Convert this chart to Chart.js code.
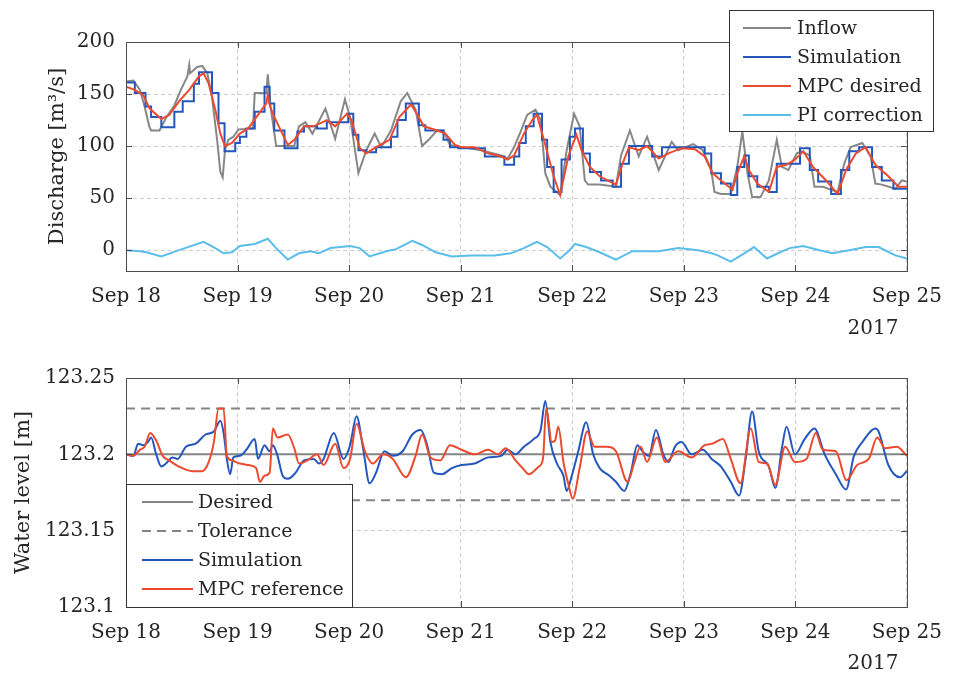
<!DOCTYPE html>
<html>
<head>
<meta charset="utf-8">
<script src="https://cdn.jsdelivr.net/npm/chart.js@4.4.0/dist/chart.umd.min.js"></script>
<style>
  html, body { margin: 0; padding: 0; background: #fff; }
  #wrap { position: relative; width: 956px; height: 675px; }
  canvas { position: absolute; left: 0; }
  #top { top: 0; }
  #bottom { top: 340px; }
</style>
</head>
<body>
<div id="wrap">
  <canvas id="top" width="956" height="340"></canvas>
  <canvas id="bottom" width="956" height="335"></canvas>
</div>
<script>
// x is hours since Sep 18 2017 00:00
var dayTicks = [0, 24, 48, 72, 96, 120, 144, 168];
var dayLabels = ['Sep 18', 'Sep 19', 'Sep 20', 'Sep 21', 'Sep 22', 'Sep 23', 'Sep 24', 'Sep 25'];
var yearLabel = '2017';

var flowTicks = [0, 50, 100, 150, 200];
var levelTicks = [123.1, 123.15, 123.2, 123.25];
var levelTickLabels = ['123.1', '123.15', '123.2', '123.25'];

// --- discharge panel ---
var inflowT = [0, 1.6, 3, 4, 5, 5.4, 7.2, 8.6, 10.4, 11.8, 13.2, 13.6, 13.8, 15.3, 16.4, 17.5, 18.5, 19.6, 20.3, 20.8,
  21.3, 22, 23.1, 24.2, 27.3, 27.7, 30.2, 30.5, 31.1, 32.3, 36.2, 37.2, 38.6, 40.1, 42.9, 45, 47.1, 48.2, 50, 51.7,
  53.5, 54.9, 57, 59.1, 60.5, 62.3, 63.7, 65.1, 66.9, 68.3, 69.7, 72.2, 76.4, 80.7, 82.1, 83.5, 84.9, 86.3, 88.1, 89.2,
  90.2, 91.3, 93.4, 94.8, 96.4, 97.6, 98.7, 99.4, 101.9, 105.4, 106.5, 108.4, 110.3, 112.1, 114.6, 117.4, 118.8, 122, 124.1, 125.9,
  126.6, 128, 130.1, 131.5, 132.6, 133.7, 134.7, 136.5, 138.3, 140, 141.1, 142.5, 144.3, 145.3, 147.1, 148.1, 149.9, 153.1, 154.5, 155.9,
  158.4, 160.2, 161.2, 162.6, 165.5, 166.9, 168];
var inflowQ = [162, 163, 154, 138, 119, 115, 115, 127, 139, 154, 167, 178, 170, 176, 177, 170, 147, 106, 75, 70,
  96, 106, 109, 116, 117, 151, 151, 169, 138, 100, 100, 119, 123, 112, 136, 107, 145, 128, 74, 96,
  112, 99, 115, 143, 151, 135, 100, 106, 115, 115, 101, 99, 96, 91, 88, 99, 114, 130, 135, 125,
  74, 61, 53, 96, 131, 119, 67, 63, 63, 61, 91, 115, 90, 109, 77, 104, 96, 102, 96, 77,
  56, 54, 54, 80, 114, 74, 51, 51, 67, 106, 80, 77, 93, 95, 91, 61, 61, 56, 83, 99,
  103, 90, 64, 63, 59, 67, 66];

// simulation is a staircase: each value holds from its time to the next one
var simT = [0, 1.9, 4.2, 5.4, 7.6, 10.4, 12.2, 14.6, 15.7, 18.5, 19.9, 21.2, 23.5, 24.5, 25.9, 27.7, 29.8, 30.9, 31.9, 34.1,
  36.9, 38.3, 41.1, 43.2, 47.8, 48.9, 50, 51.7, 53.8, 57, 58.4, 60.2, 63, 64.4, 68.3, 69.7, 71.5, 77.2, 81.4, 83.5,
  84.6, 86, 87.7, 89.5, 90.6, 92, 93.7, 95.5, 96.6, 98.3, 99.8, 102.2, 104.7, 106.5, 108.2, 113.2, 115.3, 124.5, 125.9, 128,
  130.1, 131.5, 133, 134, 135.8, 138.3, 140, 145, 147.1, 148.9, 151.7, 153.8, 155.6, 157.7, 160.5, 162.6, 165.1, 168];
var simQ = [161, 151, 138, 128, 118, 133, 143, 160, 171, 151, 122, 95, 103, 109, 117, 133, 157, 141, 115, 98,
  114, 119, 117, 123, 131, 111, 96, 94, 99, 109, 125, 141, 120, 115, 106, 99, 98, 90, 82, 90,
  103, 119, 131, 106, 80, 56, 87, 109, 117, 93, 75, 67, 61, 83, 100, 90, 99, 93, 74, 64,
  53, 80, 91, 71, 61, 56, 83, 98, 77, 66, 54, 77, 95, 99, 80, 67, 59, 59];

var mpcT = [0, 1.9, 3.7, 5.1, 7.6, 9.3, 11.4, 13.6, 15.7, 16.7, 17.8, 19.2, 20.3, 21.3, 22.8, 24.5, 26.3, 28.4, 30.2, 30.5,
  31, 31.9, 34.8, 36.2, 38.3, 40.4, 43.2, 45, 47.5, 48.5, 50.3, 51.7, 53.8, 56.7, 58.8, 61.3, 62.3, 64.1, 66.9, 68.7,
  70.8, 72.2, 75, 77.9, 80.7, 82.1, 83.5, 85.6, 87.4, 88.4, 89.9, 92, 93.4, 95.2, 96.9, 98, 99.8, 101.9, 105.4, 106.8,
  108.2, 110.3, 112.1, 114.6, 116.7, 119.5, 122.4, 124.5, 126.2, 128, 130.5, 131.5, 133, 134, 135.8, 138.3, 140, 142.1, 143.9, 145.7,
  147.8, 150.6, 153.1, 154.9, 157, 159.1, 161.2, 164, 166.2, 168];
var mpcQ = [157, 154, 149, 136, 126, 130, 143, 154, 167, 170, 160, 135, 112, 100, 103, 112, 117, 130, 141, 149,
  138, 128, 101, 106, 119, 119, 125, 119, 131, 125, 98, 93, 99, 106, 128, 140, 133, 119, 115, 112,
  101, 99, 99, 93, 90, 87, 91, 112, 125, 130, 106, 71, 53, 91, 111, 96, 80, 71, 63, 83,
  99, 96, 100, 88, 93, 98, 97, 90, 74, 67, 58, 74, 90, 77, 64, 56, 80, 82, 87, 95,
  80, 67, 54, 77, 93, 99, 82, 71, 61, 61];

var piT = [0, 3, 4.4, 7.6, 11.4, 16.7, 19.2, 21, 22.8, 24.5, 27.7, 30.5, 32.3, 34.8, 37.2, 39.7, 41.5, 44, 48.2, 50.3,
  52.4, 56, 58.1, 61.6, 63.7, 66.6, 70.1, 74.3, 79.3, 82.8, 85.6, 88.4, 90.6, 93.4, 95.2, 96.6, 99, 101.9, 105.4, 108.9,
  114.6, 118.8, 123.1, 126, 127.3, 130.1, 133, 135.1, 137.9, 140.7, 142.8, 145.7, 149.2, 152, 155.6, 159.1, 161.9, 165.5, 168];
var piQ = [0, -1, -2, -6, 0, 8, 2, -3, -2, 4, 6, 11, 2, -9, -3, -1, -3, 2, 4, 2,
  -6, -1, 1, 9, 5, -2, -6, -5, -5, -3, 2, 8, 3, -8, -1, 6, 3, -2, -9, -1,
  -1, 2, 0, -3, -5, -11, -3, 3, -8, -2, 2, 4, 0, -3, 0, 3, 3, -5, -8];

// --- water level panel ---
var levelDesired = 123.2;
var levelTolerance = [123.23, 123.17];

var wlSimT = [0, 1.6, 2.6, 3.7, 4.7, 5.4, 6.5, 7.6, 8.6, 10, 11.1, 12.9, 15, 17.1, 18.9, 20.3, 21, 21.7, 22.4, 23.1,
  24.5, 25.9, 27.7, 28.4, 29.8, 30.9, 31.6, 32.6, 33.7, 34.8, 36.5, 38.3, 40.4, 41.5, 42.5, 44.7, 46.8, 48.2, 49.6, 51,
  52.4, 53.8, 55.6, 57.4, 59.5, 61.6, 63.4, 64.8, 66.2, 68, 70.1, 72.2, 75, 77.9, 80.7, 82.1, 83.8, 85.6, 87.7, 89.2,
  90.2, 91.3, 92.7, 94.1, 94.8, 95.9, 97.3, 99, 100.5, 101.9, 104, 105.4, 107.2, 108.6, 110, 111.1, 112.5, 114, 115.6, 116.7,
  118.1, 119.5, 121.7, 124.1, 126, 128, 130.1, 131.9, 133.3, 134.7, 136.1, 138.3, 139.7, 141.1, 142.1, 143.9, 146, 148.1, 150.3, 152.7,
  154.9, 156.6, 158.4, 161.2, 161.9, 164, 166.5, 168];
var wlSimH = [123.200, 123.199, 123.207, 123.206, 123.208, 123.211, 123.200, 123.192, 123.194, 123.198, 123.197, 123.205, 123.207, 123.213, 123.215, 123.222, 123.214, 123.197, 123.187, 123.198,
  123.199, 123.203, 123.210, 123.197, 123.206, 123.202, 123.206, 123.199, 123.186, 123.184, 123.188, 123.196, 123.197, 123.194, 123.197, 123.214, 123.197, 123.206, 123.225, 123.204,
  123.181, 123.188, 123.202, 123.199, 123.202, 123.213, 123.216, 123.206, 123.188, 123.187, 123.191, 123.193, 123.194, 123.198, 123.199, 123.203, 123.200, 123.205, 123.210, 123.216,
  123.235, 123.208, 123.194, 123.186, 123.176, 123.186, 123.202, 123.221, 123.200, 123.191, 123.186, 123.182, 123.176, 123.188, 123.206, 123.202, 123.199, 123.216, 123.200, 123.195,
  123.205, 123.208, 123.200, 123.203, 123.197, 123.192, 123.182, 123.173, 123.197, 123.228, 123.202, 123.192, 123.178, 123.204, 123.218, 123.200, 123.210, 123.217, 123.200, 123.187,
  123.177, 123.199, 123.208, 123.217, 123.215, 123.193, 123.185, 123.189];

var wlRefT = [0, 1.6, 3, 4, 5.2, 6.5, 7.9, 9.3, 11.4, 14.3, 16.4, 17.8, 18.9, 19.9, 21, 21.7, 22.8, 24.5, 26.3, 28,
  28.8, 29.8, 30.9, 31.6, 32.6, 34.8, 36.2, 37.2, 39, 41.1, 42.5, 45, 46.8, 48.2, 49.6, 51.4, 53.1, 55.3, 57.4, 60.2,
  62.3, 63.7, 65.5, 67.6, 69.7, 72.2, 75, 77.9, 80, 81.7, 83.8, 85.3, 86.7, 88.8, 89.7, 90.4, 91.6, 92.3, 93, 94.1,
  95.2, 96.1, 97.6, 99.2, 100.8, 103.3, 105.4, 107.9, 109.3, 110.7, 112.1, 114.2, 116, 118.8, 121.7, 124.5, 126.2, 128.4, 130.1, 132.2,
  134.4, 136.1, 137.9, 139.7, 141.8, 143.9, 146.4, 148.4, 149.9, 152.7, 155, 157.3, 159.8, 161.6, 163.3, 165.8, 168];
var wlRefH = [123.200, 123.199, 123.203, 123.205, 123.214, 123.209, 123.199, 123.196, 123.192, 123.189, 123.189, 123.195, 123.208, 123.230, 123.230, 123.199, 123.196, 123.194, 123.193, 123.191,
  123.182, 123.186, 123.188, 123.217, 123.211, 123.213, 123.204, 123.194, 123.196, 123.200, 123.193, 123.207, 123.191, 123.197, 123.220, 123.202, 123.194, 123.200, 123.197, 123.185,
  123.199, 123.213, 123.198, 123.196, 123.206, 123.203, 123.200, 123.203, 123.200, 123.204, 123.196, 123.191, 123.187, 123.192, 123.197, 123.230, 123.208, 123.209, 123.218, 123.195,
  123.180, 123.171, 123.191, 123.215, 123.205, 123.205, 123.202, 123.182, 123.194, 123.205, 123.195, 123.211, 123.195, 123.202, 123.198, 123.206, 123.207, 123.210, 123.197, 123.181,
  123.217, 123.195, 123.194, 123.180, 123.205, 123.195, 123.197, 123.214, 123.203, 123.202, 123.183, 123.193, 123.197, 123.211, 123.204, 123.205, 123.199];

function pts(t, v) {
  return t.map(function (x, i) { return { x: x, y: v[i] }; });
}

var FONT = '"DejaVu Serif", "Liberation Serif", serif';
var TEXT = '#262626';

// matlab-like box, inner ticks, legend and year label
var matlabBox = {
  id: 'matlabBox',
  afterDraw: function (chart, args, opts) {
    var ctx = chart.ctx, a = chart.chartArea;
    var xs = chart.scales.x, ys = chart.scales.y;
    ctx.save();
    ctx.strokeStyle = '#4d4d4d';
    ctx.lineWidth = 1;
    ctx.beginPath();
    dayTicks.forEach(function (t) {
      var px = Math.round(xs.getPixelForValue(t)) + 0.5;
      ctx.moveTo(px, a.bottom); ctx.lineTo(px, a.bottom - 6);
      ctx.moveTo(px, a.top); ctx.lineTo(px, a.top + 6);
    });
    opts.yTicks.forEach(function (v) {
      var py = Math.round(ys.getPixelForValue(v)) + 0.5;
      ctx.moveTo(a.left, py); ctx.lineTo(a.left + 6, py);
      ctx.moveTo(a.right, py); ctx.lineTo(a.right - 6, py);
    });
    ctx.stroke();
    ctx.strokeRect(Math.round(a.left) + 0.5, Math.round(a.top) + 0.5,
      Math.round(a.right - a.left), Math.round(a.bottom - a.top));

    // year under the last tick
    ctx.fillStyle = TEXT;
    ctx.font = '20px ' + FONT;
    ctx.textAlign = 'center';
    ctx.textBaseline = 'middle';
    ctx.fillText(yearLabel, opts.yearX, opts.yearY);

    // legend
    var L = opts.legend;
    ctx.fillStyle = '#fff';
    ctx.fillRect(L.x, L.y, L.w, L.h);
    ctx.strokeStyle = '#333';
    ctx.strokeRect(L.x + 0.5, L.y + 0.5, L.w, L.h);
    ctx.font = '19px ' + FONT;
    ctx.textAlign = 'left';
    L.items.forEach(function (di, k) {
      var ds = chart.data.datasets[di];
      var yy = L.row0 + k * L.step;
      ctx.save();
      ctx.strokeStyle = ds.borderColor;
      ctx.lineWidth = ds.borderWidth;
      ctx.setLineDash(ds.borderDash || []);
      ctx.beginPath();
      ctx.moveTo(L.sx0, yy); ctx.lineTo(L.sx1, yy);
      ctx.stroke();
      ctx.restore();
      ctx.fillStyle = TEXT;
      ctx.fillText(ds.label, L.tx, yy + 1);
    });
    ctx.restore();
  }
};

function xScale(h) {
  return {
    type: 'linear', min: 0, max: 168,
    afterBuildTicks: function (s) { s.ticks = dayTicks.map(function (v) { return { value: v }; }); },
    afterFit: function (s) { s.height = h; },
    ticks: {
      autoSkip: false, maxRotation: 0, padding: 14, color: TEXT,
      font: { family: FONT, size: 20 },
      callback: function (v, i) { return dayLabels[i]; }
    },
    grid: { color: '#cdcdcd', lineWidth: 1, drawTicks: false },
    border: { display: false, dash: [4, 3] }
  };
}

function yScale(min, max, ticks, labels, title, titlePad) {
  return {
    type: 'linear', min: min, max: max,
    afterBuildTicks: function (s) { s.ticks = ticks.map(function (v) { return { value: v }; }); },
    afterFit: function (s) { s.width = 126; },
    ticks: {
      padding: 11, color: TEXT,
      font: { family: FONT, size: 20 },
      callback: function (v, i) { return labels[i]; }
    },
    title: {
      display: true, text: title, color: TEXT,
      font: { family: FONT, size: 21 },
      padding: { top: titlePad, bottom: 0 }
    },
    grid: { color: '#cdcdcd', lineWidth: 1, drawTicks: false },
    border: { display: false, dash: [4, 3] }
  };
}

function line(label, data, color, order, extra) {
  var ds = {
    label: label, data: data, borderColor: color, backgroundColor: color,
    borderWidth: 2, pointRadius: 0, tension: 0, fill: false, order: order
  };
  for (var k in extra) ds[k] = extra[k];
  return ds;
}

new Chart(document.getElementById('top'), {
  type: 'line',
  data: {
    datasets: [
      line('Inflow', pts(inflowT, inflowQ), '#878787', 3),
      line('Simulation', pts(simT, simQ), '#2357bd', 2, { stepped: 'before' }),
      line('MPC desired', pts(mpcT, mpcQ), '#ec4a2e', 1),
      line('PI correction', pts(piT, piQ), '#5bbde9', 4)
    ]
  },
  options: {
    responsive: false, animation: false, devicePixelRatio: 1,
    layout: { padding: { left: 0, right: 37, top: 42, bottom: 0 } },
    plugins: {
      legend: { display: false }, tooltip: { enabled: false },
      matlabBox: {
        yTicks: flowTicks, yearX: 873, yearY: 329,
        legend: { x: 729, y: 10, w: 204, h: 121, row0: 28, step: 29, sx0: 743, sx1: 791, tx: 797, items: [0, 1, 2, 3] }
      }
    },
    scales: {
      x: xScale(69),
      y: yScale(-20, 200, flowTicks, flowTicks.map(String), 'Discharge [m³/s]', 45)
    }
  },
  plugins: [matlabBox]
});

new Chart(document.getElementById('bottom'), {
  type: 'line',
  data: {
    datasets: [
      line('Desired', pts([0, 168], [levelDesired, levelDesired]), '#858585', 3),
      line('Tolerance', pts([0, 168], [levelTolerance[0], levelTolerance[0]]), '#858585', 4, { borderDash: [9, 6] }),
      line('Simulation', pts(wlSimT, wlSimH), '#2357bd', 2, { cubicInterpolationMode: 'monotone' }),
      line('MPC reference', pts(wlRefT, wlRefH), '#ec4a2e', 1, { cubicInterpolationMode: 'monotone' }),
      line('Tolerance', pts([0, 168], [levelTolerance[1], levelTolerance[1]]), '#858585', 4, { borderDash: [9, 6] })
    ]
  },
  options: {
    responsive: false, animation: false, devicePixelRatio: 1,
    layout: { padding: { left: 0, right: 37, top: 38, bottom: 0 } },
    plugins: {
      legend: { display: false }, tooltip: { enabled: false },
      matlabBox: {
        yTicks: levelTicks, yearX: 873, yearY: 324,
        legend: { x: 126, y: 144, w: 226, h: 123, row0: 162, step: 29, sx0: 142, sx1: 193, tx: 198, items: [0, 1, 2, 3] }
      }
    },
    scales: {
      x: xScale(68),
      y: yScale(123.1, 123.25, levelTicks, levelTickLabels, 'Water level [m]', 11)
    }
  },
  plugins: [matlabBox]
});
</script>
</body>
</html>
